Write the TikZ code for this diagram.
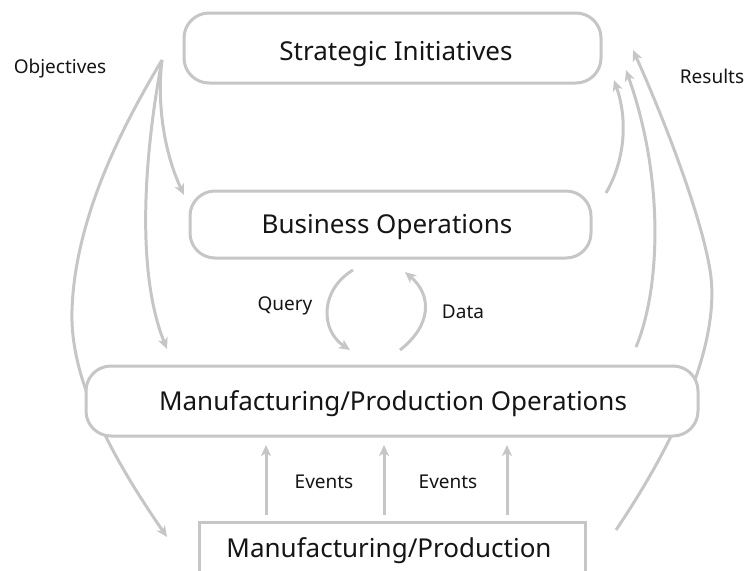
\documentclass[tikz,border=0pt]{standalone}
\usepackage{fontspec}
\setmainfont{Noto Sans}
\usetikzlibrary{arrows.meta,backgrounds}
\definecolor{linegrey}{HTML}{C6C6C6}
\definecolor{txt}{HTML}{151515}
\tikzset{
  box/.style={draw=linegrey, line width=3pt, fill=white, rounded corners=25pt, inner sep=0pt},
  plainbox/.style={draw=linegrey, line width=3pt, fill=white, inner sep=0pt},
  title/.style={text=txt, font=\fontsize{26}{30}\selectfont, anchor=base, inner sep=0pt},
  lbl/.style={text=txt, font=\fontsize{19}{22}\selectfont, anchor=base, inner sep=0pt},
  flow/.style={draw=linegrey, line width=3pt, -{Stealth[length=11pt,width=10pt,inset=3pt]}}
}
\begin{document}
\begin{tikzpicture}[x=1pt,y=-1pt]
\useasboundingbox (0,0) rectangle (746,570);
\clip (0,0) rectangle (746,570);
% boxes
\node[box, minimum width=417pt, minimum height=70pt] (si) at (392.5,48) {};
\node[box, minimum width=401pt, minimum height=67pt] (bo) at (390.5,224.5) {};
\node[box, minimum width=612pt, minimum height=70pt] (mo) at (392,401) {};
\node[plainbox, minimum width=386pt, minimum height=56pt] (mp) at (392,550) {};
% box texts
\node[title] (sit) at (396,60) {Strategic Initiatives};
\node[title] (bot) at (387,233) {Business Operations};
\node[title] (mot) at (393,410) {Manufacturing/Production Operations};
\node[title] (mpt) at (389,557) {Manufacturing/Production};
% labels
\node[lbl] (lobj) at (60,73) {Objectives};
\node[lbl] (lres) at (712,83) {Results};
\node[lbl] (lq) at (285,310) {Query};
\node[lbl] (ld) at (463,318) {Data};
\node[lbl] (le1) at (324,488) {Events};
\node[lbl] (le2) at (448,488) {Events};
% free ends
\coordinate (obj) at (162,60);
\coordinate (a1e) at (184,195);
\coordinate (a2e) at (167,349);
\coordinate (a3e) at (167,537);
\coordinate (r1s) at (606,193);
\coordinate (r1e) at (614,80);
\coordinate (r2s) at (636,347);
\coordinate (r2e) at (626,70);
\coordinate (r3s) at (616,530);
\coordinate (r3e) at (633,50);
\coordinate (qs) at (353,270);
\coordinate (qe) at (350,350);
\coordinate (ds) at (400,350);
\coordinate (de) at (405,272);
\coordinate (e1s) at (266,515); \coordinate (e1e) at (266,445);
\coordinate (e2s) at (384,515); \coordinate (e2e) at (384,445);
\coordinate (e3s) at (507,515); \coordinate (e3e) at (507,445);
\begin{scope}[on background layer]
\draw[flow] (obj) .. controls (157,100) and (163,150) .. (a1e);
\draw[flow] (obj) .. controls (145,150) and (135,270) .. (a2e);
\draw[flow] (obj) .. controls (120,130) and (75,220) .. (72,310) .. controls (70,370) and (100,440) .. (a3e);
\draw[flow] (r1s) .. controls (625,160) and (628,120) .. (r1e);
\draw[flow] (r2s) .. controls (660,290) and (665,180) .. (r2e);
\draw[flow] (r3s) .. controls (690,420) and (720,330) .. (710,270) .. controls (700,210) and (660,110) .. (r3e);
\draw[flow] (qs) .. controls (320,290) and (320,330) .. (qe);
\draw[flow] (ds) .. controls (432,325) and (432,295) .. (de);
\draw[flow] (e1s) -- (e1e);
\draw[flow] (e2s) -- (e2e);
\draw[flow] (e3s) -- (e3e);
\end{scope}
\end{tikzpicture}
\end{document}
